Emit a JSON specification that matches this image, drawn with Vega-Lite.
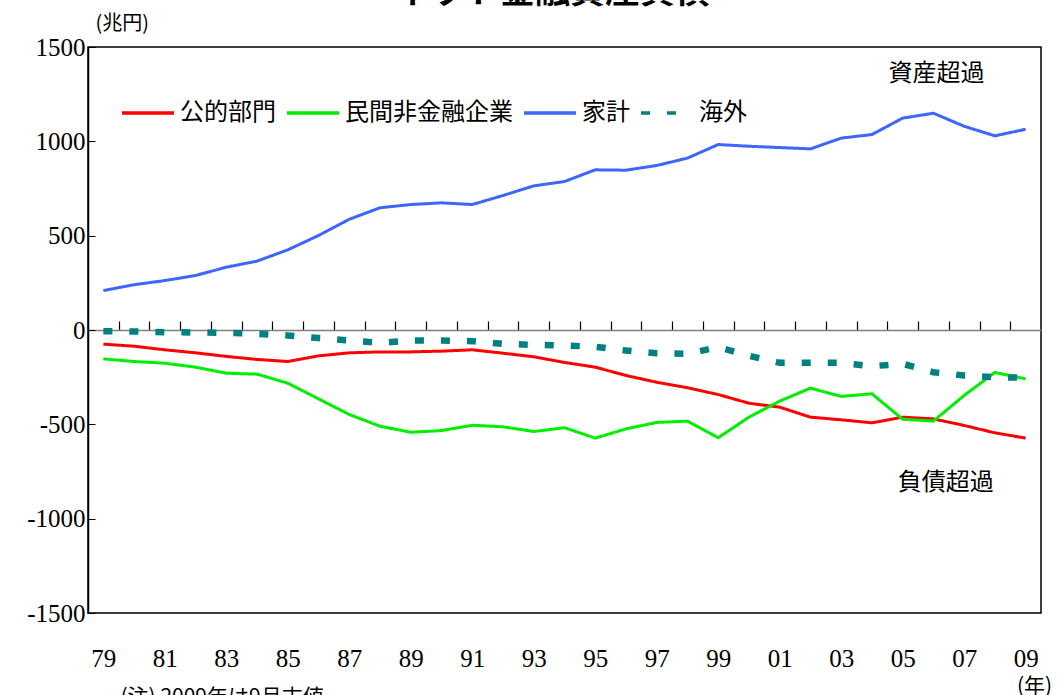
{
  "$schema": "https://vega.github.io/schema/vega-lite/v6.json",
  "width": 953,
  "height": 566,
  "autosize": {"type": "none"},
  "padding": {"left": 88, "top": 47, "right": 16, "bottom": 82},
  "background": "white",
  "title": {"text": "ネット金融資産負債", "fontSize": 35, "fontWeight": "bold", "font": "Noto Sans CJK JP", "color": "black", "baseline": "alphabetic", "offset": 0, "dy": 25, "dx": -12, "anchor": "middle"},
  "config": {
    "view": {"stroke": "black", "strokeWidth": 1.5},
    "axis": {"grid": false}
  },
  "datasets": {
    "lines": [
      {"year": 1979, "series": "家計", "value": 209}, {"year": 1980, "series": "家計", "value": 240}, {"year": 1981, "series": "家計", "value": 262}, {"year": 1982, "series": "家計", "value": 289}, {"year": 1983, "series": "家計", "value": 333}, {"year": 1984, "series": "家計", "value": 365}, {"year": 1985, "series": "家計", "value": 425}, {"year": 1986, "series": "家計", "value": 501}, {"year": 1987, "series": "家計", "value": 587}, {"year": 1988, "series": "家計", "value": 648}, {"year": 1989, "series": "家計", "value": 665}, {"year": 1990, "series": "家計", "value": 674}, {"year": 1991, "series": "家計", "value": 665}, {"year": 1992, "series": "家計", "value": 713}, {"year": 1993, "series": "家計", "value": 764}, {"year": 1994, "series": "家計", "value": 787}, {"year": 1995, "series": "家計", "value": 849}, {"year": 1996, "series": "家計", "value": 847}, {"year": 1997, "series": "家計", "value": 872}, {"year": 1998, "series": "家計", "value": 911}, {"year": 1999, "series": "家計", "value": 983}, {"year": 2000, "series": "家計", "value": 974}, {"year": 2001, "series": "家計", "value": 967}, {"year": 2002, "series": "家計", "value": 960}, {"year": 2003, "series": "家計", "value": 1017}, {"year": 2004, "series": "家計", "value": 1036}, {"year": 2005, "series": "家計", "value": 1123}, {"year": 2006, "series": "家計", "value": 1149}, {"year": 2007, "series": "家計", "value": 1080}, {"year": 2008, "series": "家計", "value": 1029}, {"year": 2009, "series": "家計", "value": 1064},
      {"year": 1979, "series": "公的部門", "value": -75}, {"year": 1980, "series": "公的部門", "value": -86}, {"year": 1981, "series": "公的部門", "value": -105}, {"year": 1982, "series": "公的部門", "value": -121}, {"year": 1983, "series": "公的部門", "value": -140}, {"year": 1984, "series": "公的部門", "value": -156}, {"year": 1985, "series": "公的部門", "value": -167}, {"year": 1986, "series": "公的部門", "value": -137}, {"year": 1987, "series": "公的部門", "value": -121}, {"year": 1988, "series": "公的部門", "value": -116}, {"year": 1989, "series": "公的部門", "value": -116}, {"year": 1990, "series": "公的部門", "value": -112}, {"year": 1991, "series": "公的部門", "value": -105}, {"year": 1992, "series": "公的部門", "value": -123}, {"year": 1993, "series": "公的部門", "value": -142}, {"year": 1994, "series": "公的部門", "value": -172}, {"year": 1995, "series": "公的部門", "value": -197}, {"year": 1996, "series": "公的部門", "value": -241}, {"year": 1997, "series": "公的部門", "value": -277}, {"year": 1998, "series": "公的部門", "value": -306}, {"year": 1999, "series": "公的部門", "value": -342}, {"year": 2000, "series": "公的部門", "value": -388}, {"year": 2001, "series": "公的部門", "value": -409}, {"year": 2002, "series": "公的部門", "value": -462}, {"year": 2003, "series": "公的部門", "value": -476}, {"year": 2004, "series": "公的部門", "value": -492}, {"year": 2005, "series": "公的部門", "value": -462}, {"year": 2006, "series": "公的部門", "value": -471}, {"year": 2007, "series": "公的部門", "value": -506}, {"year": 2008, "series": "公的部門", "value": -545}, {"year": 2009, "series": "公的部門", "value": -573},
      {"year": 1979, "series": "民間非金融企業", "value": -153}, {"year": 1980, "series": "民間非金融企業", "value": -167}, {"year": 1981, "series": "民間非金融企業", "value": -176}, {"year": 1982, "series": "民間非金融企業", "value": -197}, {"year": 1983, "series": "民間非金融企業", "value": -229}, {"year": 1984, "series": "民間非金融企業", "value": -234}, {"year": 1985, "series": "民間非金融企業", "value": -282}, {"year": 1986, "series": "民間非金融企業", "value": -365}, {"year": 1987, "series": "民間非金融企業", "value": -448}, {"year": 1988, "series": "民間非金融企業", "value": -510}, {"year": 1989, "series": "民間非金融企業", "value": -542}, {"year": 1990, "series": "民間非金融企業", "value": -533}, {"year": 1991, "series": "民間非金融企業", "value": -505}, {"year": 1992, "series": "民間非金融企業", "value": -513}, {"year": 1993, "series": "民間非金融企業", "value": -538}, {"year": 1994, "series": "民間非金融企業", "value": -518}, {"year": 1995, "series": "民間非金融企業", "value": -573}, {"year": 1996, "series": "民間非金融企業", "value": -524}, {"year": 1997, "series": "民間非金融企業", "value": -490}, {"year": 1998, "series": "民間非金融企業", "value": -483}, {"year": 1999, "series": "民間非金融企業", "value": -571}, {"year": 2000, "series": "民間非金融企業", "value": -462}, {"year": 2001, "series": "民間非金融企業", "value": -377}, {"year": 2002, "series": "民間非金融企業", "value": -308}, {"year": 2003, "series": "民間非金融企業", "value": -352}, {"year": 2004, "series": "民間非金融企業", "value": -338}, {"year": 2005, "series": "民間非金融企業", "value": -473}, {"year": 2006, "series": "民間非金融企業", "value": -483}, {"year": 2007, "series": "民間非金融企業", "value": -347}, {"year": 2008, "series": "民間非金融企業", "value": -225}, {"year": 2009, "series": "民間非金融企業", "value": -259},
      {"year": 1979, "series": "海外", "value": -6}, {"year": 1980, "series": "海外", "value": -8}, {"year": 1981, "series": "海外", "value": -12}, {"year": 1982, "series": "海外", "value": -13}, {"year": 1983, "series": "海外", "value": -15}, {"year": 1984, "series": "海外", "value": -20}, {"year": 1985, "series": "海外", "value": -29}, {"year": 1986, "series": "海外", "value": -43}, {"year": 1987, "series": "海外", "value": -56}, {"year": 1988, "series": "海外", "value": -68}, {"year": 1989, "series": "海外", "value": -56}, {"year": 1990, "series": "海外", "value": -56}, {"year": 1991, "series": "海外", "value": -59}, {"year": 1992, "series": "海外", "value": -73}, {"year": 1993, "series": "海外", "value": -79}, {"year": 1994, "series": "海外", "value": -82}, {"year": 1995, "series": "海外", "value": -89}, {"year": 1996, "series": "海外", "value": -109}, {"year": 1997, "series": "海外", "value": -123}, {"year": 1998, "series": "海外", "value": -126}, {"year": 1999, "series": "海外", "value": -91}, {"year": 2000, "series": "海外", "value": -137}, {"year": 2001, "series": "海外", "value": -174}, {"year": 2002, "series": "海外", "value": -174}, {"year": 2003, "series": "海外", "value": -174}, {"year": 2004, "series": "海外", "value": -192}, {"year": 2005, "series": "海外", "value": -179}, {"year": 2006, "series": "海外", "value": -224}, {"year": 2007, "series": "海外", "value": -241}, {"year": 2008, "series": "海外", "value": -250}, {"year": 2009, "series": "海外", "value": -253}
    ],
    "noteTop": [{"year": 2006.1, "value": 1359, "label": "資産超過"}],
    "noteBottom": [{"year": 2006.4, "value": -813, "label": "負債超過"}]
  },
  "layer": [
    {
      "data": {"name": "lines"},
      "mark": {"type": "line", "strokeCap": "butt", "clip": false},
      "encoding": {
        "x": {"field": "year", "type": "quantitative",
          "scale": {"domain": [1978.5, 2009.5], "nice": false, "zero": false},
          "axis": {"orient": "bottom", "values": [1979, 1981, 1983, 1985, 1987, 1989, 1991, 1993, 1995, 1997, 1999, 2001, 2003, 2005, 2007, 2009],
            "labelExpr": "substring(toString(datum.value), 2, 4)", "ticks": false, "domain": false,
            "labelFont": "Liberation Serif", "labelFontSize": 25, "labelColor": "black", "labelPadding": 33,
            "title": "(年)", "titleFont": "Noto Sans CJK JP", "titleFontSize": 21, "titleFontWeight": "normal", "titleColor": "black",
            "titleX": 946, "titleY": 73, "titleAlign": "center", "titleBaseline": "middle", "titleAnchor": null}},
        "y": {"field": "value", "type": "quantitative",
          "scale": {"domain": [-1500, 1500], "nice": false},
          "axis": {"values": [-1500, -1000, -500, 0, 500, 1000, 1500], "labelExpr": "toString(datum.value)", "tickSize": -7, "tickColor": "black", "domainColor": "black", "domainWidth": 1.5,
            "labelFont": "Liberation Serif", "labelFontSize": 25, "labelColor": "black", "labelPadding": 10,
            "title": "(兆円)", "titleFont": "Noto Sans CJK JP", "titleFontSize": 20, "titleFontWeight": "normal", "titleColor": "black",
            "titleAngle": 0, "titleX": 7, "titleY": -24, "titleAlign": "left", "titleBaseline": "middle"}},
        "color": {"field": "series", "type": "nominal",
          "scale": {"domain": ["公的部門", "民間非金融企業", "家計", "海外"], "range": ["#FF0000", "#00EE00", "#3D66FF", "#008080"]},
          "legend": {"title": null, "orient": "none", "legendX": 32, "legendY": 38, "direction": "horizontal",
            "symbolType": "stroke", "symbolSize": 2704, "symbolStrokeWidth": 3.5, "labelFont": "Noto Sans CJK JP", "labelFontSize": 24,
            "labelColor": "black", "labelOffset": 4, "columnPadding": 4, "labelLimit": 300}},
        "strokeDash": {"field": "series", "type": "nominal",
          "scale": {"domain": ["公的部門", "民間非金融企業", "家計", "海外"], "range": [[1, 0], [1, 0], [1, 0], [9, 17]]},
          "legend": null},
        "strokeWidth": {"condition": {"test": "datum.series === '海外'", "value": 6.5}, "value": 3}
      }
    },
    {
      "data": {"name": "noteTop"},
      "mark": {"type": "text", "font": "Noto Sans CJK JP", "fontSize": 24, "color": "black"},
      "encoding": {
        "x": {"field": "year", "type": "quantitative",
          "axis": {"orient": "top", "offset": -283, "values": [1979.5, 1980.5, 1981.5, 1982.5, 1983.5, 1984.5, 1985.5, 1986.5, 1987.5, 1988.5, 1989.5, 1990.5, 1991.5, 1992.5, 1993.5, 1994.5, 1995.5, 1996.5, 1997.5, 1998.5, 1999.5, 2000.5, 2001.5, 2002.5, 2003.5, 2004.5, 2005.5, 2006.5, 2007.5, 2008.5],
            "labels": false, "tickSize": 9, "tickColor": "black", "tickWidth": 1.2, "domainColor": "#808080", "domainWidth": 1.5, "title": null}},
        "y": {"field": "value", "type": "quantitative"},
        "text": {"field": "label"}
      }
    },
    {
      "data": {"name": "noteBottom"},
      "mark": {"type": "text", "font": "Noto Sans CJK JP", "fontSize": 24, "color": "black"},
      "encoding": {
        "x": {"field": "year", "type": "quantitative",
          "axis": {"orient": "bottom", "labels": false, "ticks": false, "domain": false,
            "title": "(注) 2009年は9月末値", "titleFont": "Noto Sans CJK JP", "titleFontSize": 21, "titleFontWeight": "normal", "titleColor": "black",
            "titleX": 32, "titleY": 73, "titleAlign": "left", "titleBaseline": "top", "titleAnchor": null}},
        "y": {"field": "value", "type": "quantitative"},
        "text": {"field": "label"}
      }
    }
  ],
  "resolve": {"axis": {"x": "independent", "y": "shared"}}
}
